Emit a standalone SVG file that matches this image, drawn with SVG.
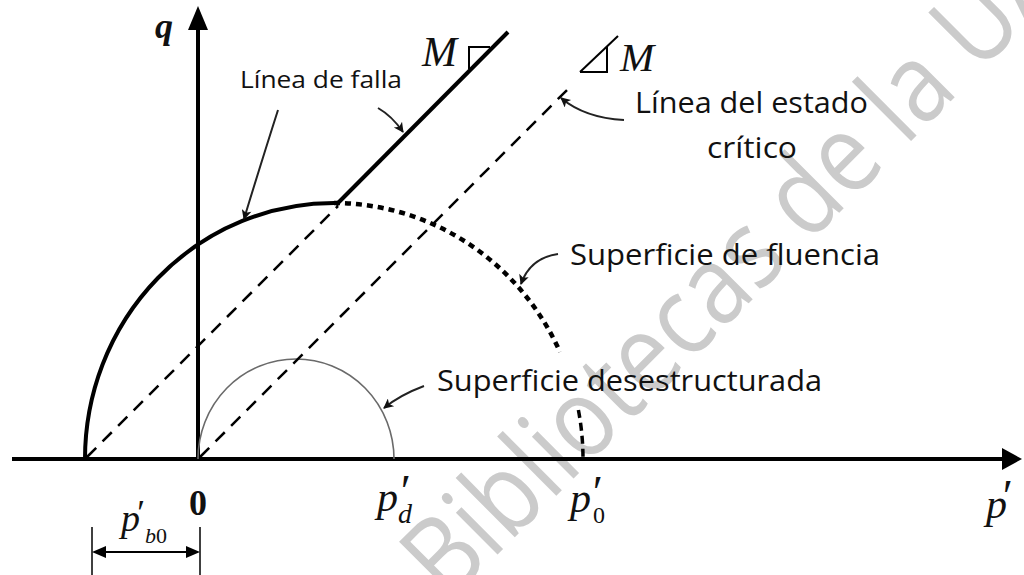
<svg xmlns="http://www.w3.org/2000/svg" width="1024" height="575" viewBox="0 0 1024 575">
<defs>
<style>
.lbl{font-family:"Open Sans","Noto Sans",sans-serif;fill:#111}
.math{font-family:"Liberation Serif","Times New Roman",serif;font-style:italic;fill:#111}
.up{font-style:normal}
.axis{stroke:#000;stroke-width:4;fill:none}
.lead{stroke:#222;stroke-width:2;fill:none;marker-end:url(#ah)}
.csl{stroke:#000;stroke-width:2.5;stroke-dasharray:13 9;fill:none}
.thin{stroke:#000;stroke-width:2;fill:none}
.wm{font-family:"Open Sans","Noto Sans",sans-serif;fill:#cbcbcb;font-weight:500}
</style>
<marker id="ah" viewBox="0 0 10 10" refX="9" refY="5" markerWidth="6.5" markerHeight="5" orient="auto" markerUnits="strokeWidth">
<path d="M0,0 L10,5 L0,10 L2.5,5 z" fill="#111"/>
</marker>
</defs>
<rect width="1024" height="575" fill="#fff"/>
<g id="watermark">
<text class="wm" x="448" y="604" font-size="110" textLength="880" lengthAdjust="spacingAndGlyphs" transform="rotate(-45 448 604)">Bibliotecas de la UA</text>
</g>
<g id="axes">
<line class="axis" x1="12" y1="459" x2="1004" y2="459"/>
<polygon points="1022,459 1002,448 1002,470" fill="#000"/>
<line class="axis" x1="198" y1="28" x2="198" y2="459"/>
<polygon points="198,6 188,30 208,30" fill="#000"/>
</g>
<g id="yield-surface">
<path d="M85 459 A249 256 0 0 1 334 203" stroke="#000" stroke-width="4" fill="none"/>
<path d="M334 203 A249 256 0 0 1 560 352" stroke="#000" stroke-width="4.5" stroke-dasharray="6 5" fill="none"/>
<path d="M578.4 410 A249 256 0 0 1 583 459" stroke="#000" stroke-width="3.5" stroke-dasharray="8 5" fill="none"/>
</g>
<g id="destructured-surface">
<path d="M198 459 A98 100 0 0 1 394 459" stroke="#6a6a6a" stroke-width="1.6" fill="none"/>
</g>
<g id="failure-line">
<line x1="336" y1="205" x2="508" y2="32" stroke="#000" stroke-width="4"/>
<polyline class="thin" points="490,47 469,47 469,69"/>
</g>
<g id="csl">
<line class="csl" x1="87" y1="457" x2="338" y2="206"/>
<line class="csl" x1="200" y1="457" x2="572" y2="85"/>
<polyline class="thin" points="580,72 607,72 607,47"/>
<line class="thin" x1="580" y1="72" x2="618" y2="36"/>
</g>
<g id="dimension">
<line x1="92" y1="527" x2="92" y2="575" stroke="#000" stroke-width="1.5"/>
<line x1="200" y1="527" x2="200" y2="575" stroke="#000" stroke-width="1.5"/>
<line x1="100" y1="552" x2="192" y2="552" stroke="#000" stroke-width="2"/>
<polygon points="92,552 106,546 106,558" fill="#000"/>
<polygon points="200,552 186,546 186,558" fill="#000"/>
</g>
<g id="connectors">
<path class="lead" d="M278 110 Q262 160 244 219"/>
<path class="lead" d="M378 108 Q392 116 403 132"/>
<path class="lead" d="M624 120 Q585 118 561 98"/>
<path class="lead" d="M558 254 Q530 258 521 284"/>
<path class="lead" d="M424 386 Q400 395 384 408"/>
</g>
<g id="labels">
<text class="lbl" x="240" y="88" font-size="24" textLength="162" lengthAdjust="spacingAndGlyphs">Línea de falla</text>
<text class="lbl" x="635" y="113" font-size="30" textLength="233" lengthAdjust="spacingAndGlyphs">Línea del estado</text>
<text class="lbl" x="707" y="158" font-size="30" textLength="90" lengthAdjust="spacingAndGlyphs">crítico</text>
<text class="lbl" x="570" y="265" font-size="30" textLength="310" lengthAdjust="spacingAndGlyphs">Superficie de fluencia</text>
<text class="lbl" x="437" y="391" font-size="30" textLength="385" lengthAdjust="spacingAndGlyphs">Superficie desestructurada</text>
</g>
<g id="math-labels">
<text class="math" x="155" y="38" font-size="36" font-weight="bold">q</text>
<text class="math" x="422" y="66" font-size="42">M</text>
<text class="math" x="620" y="71" font-size="41">M</text>
<text class="math up" x="198" y="515" font-size="36" font-weight="bold" text-anchor="middle">0</text>
<text class="math" x="121" y="531" font-size="38">p</text>
<text class="math" x="135" y="525" font-size="36">′</text>
<text class="math" x="145" y="543" font-size="22">b<tspan class="up">0</tspan></text>
<text class="math" x="377" y="511" font-size="42">p</text>
<text class="math" x="398" y="507" font-size="46">′</text>
<text class="math" x="398" y="523" font-size="28">d</text>
<text class="math" x="570" y="512" font-size="42">p</text>
<text class="math" x="590" y="508" font-size="46">′</text>
<text class="math up" x="593" y="523" font-size="24">0</text>
<text class="math" x="986" y="518" font-size="42">p</text>
<text class="math" x="1000" y="512" font-size="46">′</text>
</g>
</svg>
